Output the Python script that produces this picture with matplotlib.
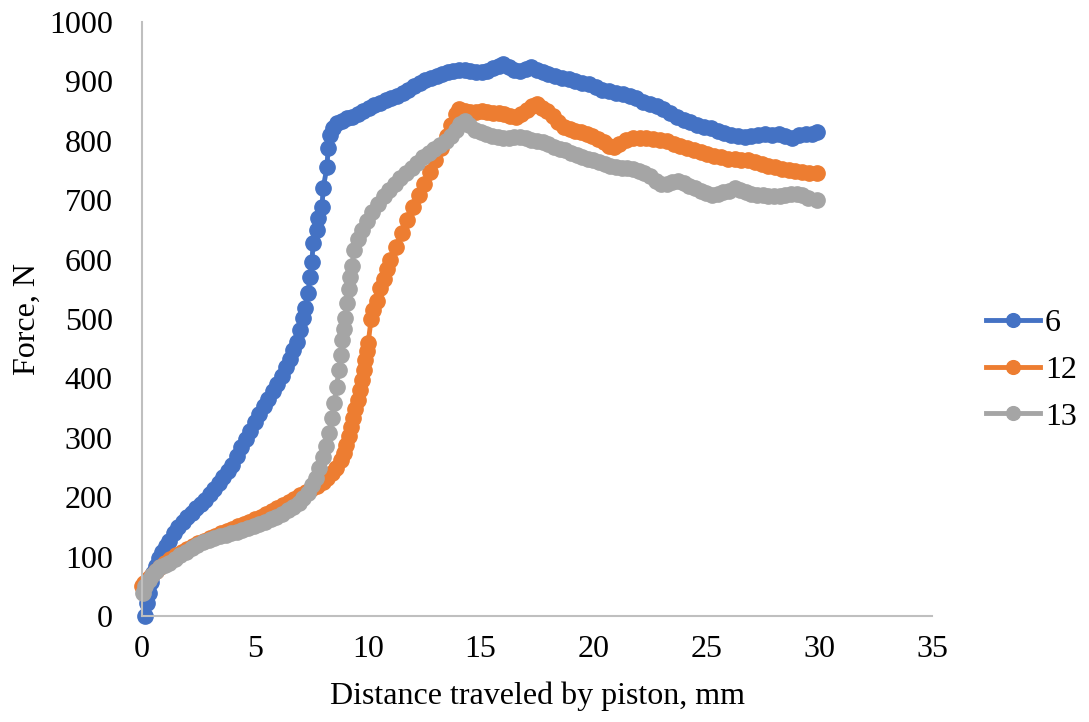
import matplotlib
matplotlib.use("Agg")
import matplotlib.pyplot as plt

plt.rcParams['font.family'] = ['Liberation Serif', 'DejaVu Serif']

# series "6"
x6 = [0.13, 0.22, 0.3, 0.4, 0.5, 0.6, 0.75, 0.9, 1.05, 1.2, 1.4, 1.6, 1.8, 2.0, 2.2, 2.4,
      2.6, 2.8, 3.0, 3.2, 3.4, 3.6, 3.8, 4.0, 4.2, 4.4, 4.6, 4.8, 5.0, 5.2, 5.4, 5.6, 5.8,
      6.0, 6.2, 6.4, 6.55, 6.7, 6.87, 7.0, 7.13, 7.22, 7.36, 7.44, 7.53, 7.58, 7.75, 7.8,
      7.98, 8.02, 8.2, 8.24, 8.33, 8.45, 8.64, 8.85, 9.08, 9.3, 9.55, 9.8, 10.05, 10.3,
      10.55, 10.8, 11.05, 11.3, 11.55, 11.8, 12.05, 12.3, 12.55, 12.8, 13.05, 13.3, 13.55,
      13.8, 14.05, 14.3, 14.55, 14.8, 15.05, 15.3, 15.55, 15.8, 16.0, 16.25, 16.5, 16.75,
      17.0, 17.25, 17.5, 17.75, 18.0, 18.3, 18.6, 18.9, 19.2, 19.5, 19.8, 20.1, 20.4, 20.7,
      21.0, 21.3, 21.6, 21.9, 22.2, 22.5, 22.8, 23.1, 23.4, 23.7, 24.0, 24.3, 24.6, 24.9,
      25.2, 25.5, 25.8, 26.1, 26.4, 26.7, 27.0, 27.3, 27.6, 27.9, 28.2, 28.5, 28.8, 29.1,
      29.4, 29.7, 29.9]
f6 = [0, 22, 39, 58, 72, 84, 98, 108, 118, 127, 139, 150, 159, 167, 174, 181,
      188, 196, 205, 214, 224, 234, 244, 255, 270, 284, 298, 312, 326, 340, 354, 366, 378,
      390, 404, 419, 433, 447, 462, 481, 502, 518, 543, 571, 596, 628, 650, 670,
      689, 720, 756, 788, 810, 822, 830, 834, 838, 840, 845, 850, 855, 860,
      864, 868, 872, 876, 880, 886, 892, 897, 902, 906, 909, 913, 916,
      918, 920, 919, 917, 916, 916, 918, 922, 926, 929, 924, 920, 918,
      921, 925, 920, 915, 912, 909, 906, 904, 901, 898, 895, 891, 886, 883,
      881, 879, 876, 872, 866, 862, 858, 853, 846, 840, 835, 831, 827, 824,
      821, 817, 813, 810, 808, 806, 808, 810, 812, 810, 812, 808, 804, 810,
      812, 812, 815]

# series "12"
x12 = [0.02, 0.1, 0.25, 0.4, 0.6, 0.8, 1.0, 1.25, 1.5, 1.75, 2.0, 2.25, 2.5, 2.75, 3.0,
       3.25, 3.5, 3.75, 4.0, 4.25, 4.5, 4.75, 5.0, 5.25, 5.5, 5.75, 6.0, 6.25, 6.5, 6.75,
       7.0, 7.25, 7.5, 7.75, 8.0, 8.2, 8.4, 8.6, 8.8, 8.95, 9.05, 9.15, 9.25, 9.35, 9.45,
       9.55, 9.65, 9.75, 9.82, 9.88, 9.95, 10.02, 10.15, 10.25, 10.4, 10.55, 10.7, 10.85,
       11.0, 11.25, 11.5, 11.75, 12.0, 12.25, 12.5, 12.75, 13.0, 13.25, 13.5, 13.7, 13.9,
       14.05, 14.3, 14.55, 14.8, 15.05, 15.3, 15.55, 15.8, 16.05, 16.3, 16.55, 16.8, 17.05,
       17.3, 17.5, 17.7, 17.95, 18.2, 18.45, 18.7, 18.95, 19.2, 19.45, 19.7, 19.95, 20.2,
       20.45, 20.7, 20.9, 21.15, 21.45, 21.75, 22.05, 22.35, 22.65, 22.95, 23.25, 23.55,
       23.85, 24.15, 24.45, 24.75, 25.05, 25.35, 25.65, 25.95, 26.25, 26.55, 26.85, 27.15,
       27.45, 27.75, 28.05, 28.35, 28.65, 28.95, 29.25, 29.55, 29.9]
f12 = [50, 55, 62, 68, 76, 83, 90, 96, 102, 108, 113, 118, 123, 127, 131,
       135, 139, 143, 147, 151, 155, 159, 163, 167, 172, 177, 182, 187, 192, 197,
       203, 208, 213, 219, 226, 233, 241, 250, 262, 275, 288, 303, 318, 333, 348,
       364, 380, 397, 414, 431, 446, 459, 500, 515, 530, 552, 568, 585,
       600, 622, 645, 667, 688, 708, 728, 748, 768, 788, 808, 826, 845,
       853, 850, 848, 849, 850, 848, 847, 846, 845, 842, 840, 845, 852,
       858, 862, 856, 850, 842, 832, 824, 820, 817, 814, 811, 808, 803,
       798, 792, 789, 795, 801, 805, 805, 804, 803, 802, 799, 795,
       791, 788, 785, 781, 777, 774, 772, 770, 769, 768, 767, 764,
       761, 758, 756, 753, 751, 749, 747, 746, 745]

# series "13"
x13 = [0.05, 0.15, 0.3, 0.45, 0.6, 0.8, 1.0, 1.2, 1.45, 1.7, 1.95, 2.2, 2.45, 2.7, 2.95,
       3.2, 3.45, 3.7, 3.95, 4.2, 4.45, 4.7, 4.95, 5.2, 5.45, 5.7, 5.95, 6.2, 6.45, 6.7,
       6.95, 7.15, 7.35, 7.55, 7.7, 7.85, 8.0, 8.15, 8.3, 8.42, 8.52, 8.62, 8.72, 8.8, 8.88,
       8.95, 9.0, 9.07, 9.15, 9.22, 9.3, 9.4, 9.55, 9.75, 9.97, 10.2, 10.45, 10.7, 10.95,
       11.2, 11.45, 11.7, 11.95, 12.2, 12.45, 12.7, 12.95, 13.2, 13.45, 13.7, 13.9, 14.1,
       14.3, 14.5, 14.75, 15.0, 15.25, 15.5, 15.75, 16.0, 16.25, 16.5, 16.75, 17.0, 17.25,
       17.5, 17.75, 18.0, 18.25, 18.5, 18.75, 19.0, 19.25, 19.5, 19.75, 20.0, 20.25, 20.5,
       20.75, 21.0, 21.25, 21.5, 21.75, 22.0, 22.25, 22.5, 22.75, 23.0, 23.25, 23.5, 23.75,
       24.0, 24.25, 24.5, 24.75, 25.0, 25.25, 25.5, 25.75, 26.0, 26.25, 26.5, 26.75, 27.0,
       27.25, 27.5, 27.75, 28.0, 28.25, 28.5, 28.75, 29.0, 29.25, 29.5, 29.9]
f13 = [38, 50, 60, 69, 76, 82, 86, 90, 96, 102, 108, 114, 119, 124, 128,
       131, 134, 137, 139, 142, 145, 148, 151, 155, 159, 163, 167, 172, 178, 184,
       191, 198, 207, 220, 233, 250, 268, 287, 308, 333, 358, 386, 414, 439, 465,
       484, 502, 527, 550, 570, 590, 616, 635, 650, 665, 680, 694, 707, 718,
       728, 738, 746, 755, 762, 772, 780, 786, 793, 800, 808, 818, 828,
       834, 826, 818, 814, 811, 808, 806, 804, 804, 806, 806, 804, 802,
       800, 798, 794, 790, 787, 784, 780, 776, 772, 769, 767, 764, 761,
       758, 756, 755, 754, 752, 749, 745, 740, 733, 728, 728, 730, 732,
       729, 724, 720, 716, 712, 709, 710, 713, 716, 720, 718, 714, 711,
       709, 708, 707, 707, 707, 708, 710, 711, 708, 704, 701]

series = [("6", x6, f6, "#4472C4"),
          ("12", x12, f12, "#ED7D31"),
          ("13", x13, f13, "#A5A5A5")]

fig = plt.figure(figsize=(10.89, 7.22), dpi=100)
ax = fig.add_axes([142 / 1089, 1 - 616 / 722, 790 / 1089, 594 / 722])

for name, xs, ys, c in series:
    ax.plot(xs, ys, "-o", color=c, lw=3.5, ms=11, mec=c, mfc=c, label=name,
            clip_on=False)

ax.set_xlim(0, 35)
ax.set_ylim(0, 1000)
ax.set_xticks(range(0, 36, 5))
ax.set_yticks(range(0, 1001, 100))
ax.tick_params(length=0, labelsize=23, pad=14)
ax.tick_params(axis="y", pad=21)
for s in ("top", "right"):
    ax.spines[s].set_visible(False)
for s in ("left", "bottom"):
    ax.spines[s].set_color("#bfbfbf")
    ax.spines[s].set_linewidth(1.5)

ax.set_xlabel("Distance traveled by piston, mm", fontsize=23, labelpad=12)
ax.set_ylabel("Force, N", fontsize=23)
ax.yaxis.set_label_coords(-100 / 790, 0.5)

leg = fig.legend(loc="center left", bbox_to_anchor=(986 / 1089, 1 - 370 / 722),
                 frameon=False, fontsize=23, handlelength=1.7, handletextpad=0.15,
                 labelspacing=0.55, markerscale=0.9, borderpad=0, borderaxespad=0)

fig.savefig("out.png", dpi=100)
